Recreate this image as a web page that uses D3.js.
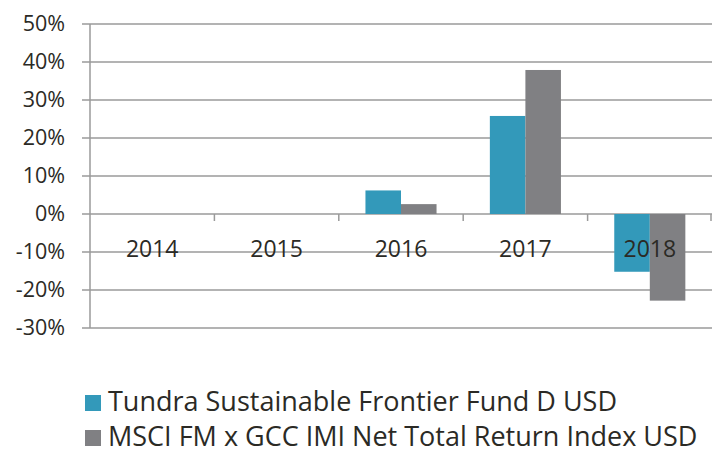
<!DOCTYPE html>
<html><head><meta charset="utf-8">
<script src="https://cdn.jsdelivr.net/npm/d3@7/dist/d3.min.js"></script>
<style>body{margin:0;background:#fff;}svg{display:block;font-family:"Open Sans",sans-serif;}</style>
</head><body>
<script>
const categories = ["2014","2015","2016","2017","2018"];
const seriesNames = ["Tundra Sustainable Frontier Fund D USD","MSCI FM x GCC IMI Net Total Return Index USD"];
const fundValues = [null, null, 6.2, 25.8, -15.2];
const indexValues = [null, null, 2.6, 37.9, -22.8];
const yTicks = [-30,-20,-10,0,10,20,30,40,50];
const colors = ["#3399ba","#808083"];

const W = 712, H = 450;
const svg = d3.select("body").append("svg").attr("width", W).attr("height", H);
const x = d3.scaleBand().domain(categories).range([90, 712]);
const y = d3.scaleLinear().domain([-30, 50]).range([328, 24]);
const xs = d3.scaleBand().domain([0,1]).range([0, x.bandwidth()]).paddingInner(0).paddingOuter(0.75);

// gridlines
svg.append("g").selectAll("line").data(yTicks).join("line")
  .attr("x1", 82).attr("x2", W).attr("y1", d => y(d)).attr("y2", d => y(d))
  .attr("stroke", "#9a9a9a").attr("stroke-width", 1.5);
// y labels
const yAxis = d3.axisLeft(y).tickValues(yTicks).tickSize(0).tickPadding(0).tickFormat(d => d + "%");
const ga = svg.append("g").attr("transform", "translate(65,0)").call(yAxis);
ga.select(".domain").remove();
ga.selectAll("text").attr("font-size", 21.5).attr("fill", "#2b2a25").attr("font-family", "'Open Sans',sans-serif");
// left axis line
svg.append("line").attr("x1", 90).attr("x2", 90).attr("y1", 24).attr("y2", 328).attr("stroke", "#9a9a9a").attr("stroke-width", 1.5);

// bars
const series = [fundValues, indexValues];
series.forEach((vals, si) => {
  svg.append("g").selectAll("rect").data(categories.map((c, i) => ({c, v: vals[i]})).filter(d => d.v !== null)).join("rect")
    .attr("x", d => x(d.c) + xs(si)).attr("width", xs.bandwidth())
    .attr("y", d => y(Math.max(0, d.v))).attr("height", d => Math.abs(y(d.v) - y(0)))
    .attr("fill", colors[si]);
});

// category ticks on zero line
svg.append("g").selectAll("line").data(categories.slice(1).concat(["end"])).join("line")
  .attr("x1", (d, i) => i < categories.length - 1 ? x(d) : 711).attr("x2", (d, i) => i < categories.length - 1 ? x(d) : 711)
  .attr("y1", y(0)).attr("y2", y(0) + 7).attr("stroke", "#9a9a9a").attr("stroke-width", 1.5);
// category labels
svg.append("g").selectAll("text").data(categories).join("text")
  .attr("x", d => x(d) + x.bandwidth() / 2).attr("y", 256.5).attr("text-anchor", "middle")
  .attr("font-size", 23).attr("fill", "#2b2a25").text(d => d);

// legend
const lg = svg.append("g");
seriesNames.forEach((n, i) => {
  lg.append("rect").attr("x", 85).attr("y", 395 + i * 35).attr("width", 16).attr("height", 16).attr("fill", colors[i]);
  lg.append("text").attr("x", 108).attr("y", 410.5 + i * 35).attr("font-size", 27).attr("fill", "#2b2a25").text(n);
});
</script>
</body></html>
